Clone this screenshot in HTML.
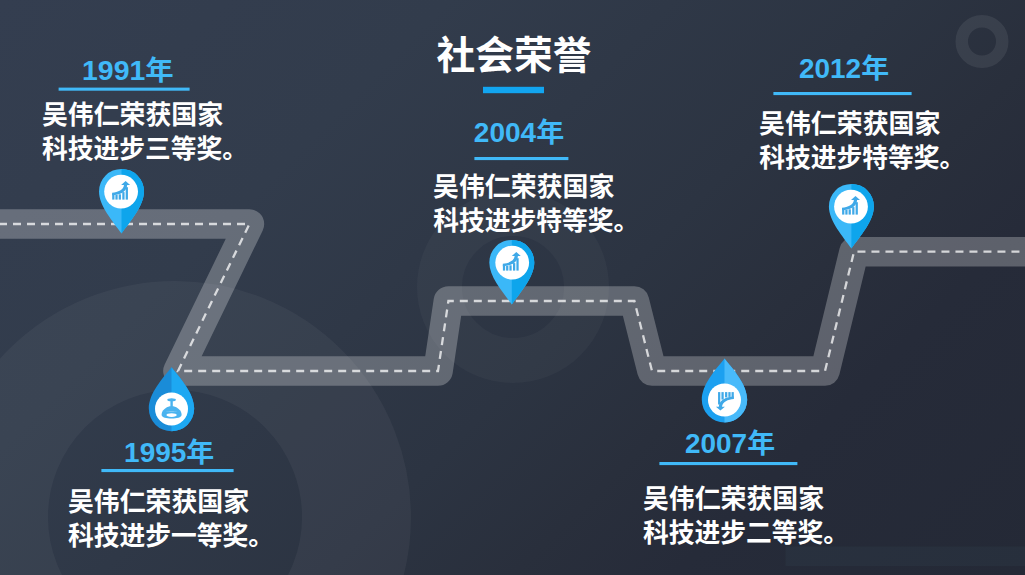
<!DOCTYPE html>
<html lang="zh-CN"><head><meta charset="utf-8"><title>社会荣誉</title>
<style>
html,body{margin:0;padding:0;background:#2b3341;}
body{width:1025px;height:575px;overflow:hidden;position:relative;font-family:"Liberation Sans",sans-serif;}
#bg{position:absolute;left:0;top:0;width:1025px;height:575px;
background:linear-gradient(135deg,#343e50 0%,#323c4c 28%,#2c3442 56%,#292f3c 68%,#262b39 78%,#242936 100%);}
svg{position:absolute;left:0;top:0;display:block}
svg text{font-family:"Liberation Sans","Noto Sans CJK SC",sans-serif;font-weight:bold}
.t{position:absolute;color:transparent;font-weight:bold;white-space:nowrap;margin:0;overflow:hidden}
</style></head><body>
<div id="bg"></div>
<svg width="1025" height="575" viewBox="0 0 1025 575">
<circle cx="175" cy="517" r="181.5" fill="none" stroke="#fff" stroke-opacity="0.042" stroke-width="109"/>
<circle cx="513" cy="287" r="73.5" fill="none" stroke="#fff" stroke-opacity="0.03" stroke-width="45"/>
<circle cx="982" cy="41.5" r="20.25" fill="none" stroke="#fff" stroke-opacity="0.075" stroke-width="12.5"/>
<rect x="785.5" y="546.5" width="240" height="19.5" fill="#7fb0c8" fill-opacity="0.045"/>
<path d="M-30 224 L249.4 224 L178 371 L438 371 L448.4 301 L634.4 301 L652 371 L825 371 L854 251.7 L1060 251.7" fill="none" stroke="#fff" stroke-opacity="0.255" stroke-width="29.6" stroke-linejoin="round"/>
<path d="M-30 224 L249.4 224 L178 371 L438 371 L448.4 301 L634.4 301 L652 371 L825 371 L854 251.7 L1060 251.7" fill="none" stroke="#fff" stroke-opacity="0.74" stroke-width="2.3" stroke-dasharray="8 6" stroke-dashoffset="13"/>
<path d="M99.0 191.4 A22.5 22.5 0 0 1 144.0 191.4 C144.0 205.9 130.0 221.4 121.5 233.4 C113.0 221.4 99.0 205.9 99.0 191.4 Z" fill="#3bb8f8"/><path d="M121.5 168.9 A22.5 22.5 0 0 1 144.0 191.4 C144.0 205.9 130.0 221.4 121.5 233.4 Z" fill="#0ea5ec"/><circle cx="121.1" cy="191.6" r="16.9" fill="#fff"/><g transform="translate(121.3 191.5) rotate(0)" fill="#3fa9e8"><rect x="-9.1" y="2.6" width="2.25" height="5.50"/><rect x="-5.9" y="3.3" width="2.25" height="4.80"/><rect x="-2.6" y="2.8" width="2.25" height="5.30"/><rect x="1.0" y="0.6" width="2.25" height="7.50"/><rect x="4.4" y="-4.3" width="2.25" height="12.40"/><path d="M-9.2 1.2 C-3.2 0.8 2.2 -1.8 2.7 -6.5 L-0.2 -6.5 L4.3 -10.4 L8.8 -6.5 L5.9 -6.5 C5.5 0.4 -1.5 3.6 -9.2 3.8 Z"/></g>
<path d="M489.3 262.4 A22.5 22.5 0 0 1 534.3 262.4 C534.3 276.9 520.3 292.4 511.8 304.4 C503.3 292.4 489.3 276.9 489.3 262.4 Z" fill="#3bb8f8"/><path d="M511.8 239.89999999999998 A22.5 22.5 0 0 1 534.3 262.4 C534.3 276.9 520.3 292.4 511.8 304.4 Z" fill="#0ea5ec"/><circle cx="512.2" cy="262.59999999999997" r="16.9" fill="#fff"/><g transform="translate(512.0 262.5) rotate(0)" fill="#3fa9e8"><rect x="-9.1" y="2.6" width="2.25" height="5.50"/><rect x="-5.9" y="3.3" width="2.25" height="4.80"/><rect x="-2.6" y="2.8" width="2.25" height="5.30"/><rect x="1.0" y="0.6" width="2.25" height="7.50"/><rect x="4.4" y="-4.3" width="2.25" height="12.40"/><path d="M-9.2 1.2 C-3.2 0.8 2.2 -1.8 2.7 -6.5 L-0.2 -6.5 L4.3 -10.4 L8.8 -6.5 L5.9 -6.5 C5.5 0.4 -1.5 3.6 -9.2 3.8 Z"/></g>
<path d="M828.9 206.4 A22.5 22.5 0 0 1 873.9 206.4 C873.9 220.9 859.9 236.4 851.4 248.4 C842.9 236.4 828.9 220.9 828.9 206.4 Z" fill="#3bb8f8"/><path d="M851.4 183.9 A22.5 22.5 0 0 1 873.9 206.4 C873.9 220.9 859.9 236.4 851.4 248.4 Z" fill="#0ea5ec"/><circle cx="851.0" cy="206.6" r="16.9" fill="#fff"/><g transform="translate(851.2 206.5) rotate(0)" fill="#3fa9e8"><rect x="-9.1" y="2.6" width="2.25" height="5.50"/><rect x="-5.9" y="3.3" width="2.25" height="4.80"/><rect x="-2.6" y="2.8" width="2.25" height="5.30"/><rect x="1.0" y="0.6" width="2.25" height="7.50"/><rect x="4.4" y="-4.3" width="2.25" height="12.40"/><path d="M-9.2 1.2 C-3.2 0.8 2.2 -1.8 2.7 -6.5 L-0.2 -6.5 L4.3 -10.4 L8.8 -6.5 L5.9 -6.5 C5.5 0.4 -1.5 3.6 -9.2 3.8 Z"/></g>
<path d="M148.8 408.6 A22.7 22.7 0 0 0 194.2 408.6 C194.2 393.6 180.5 378.6 171.5 367.3 C162.5 378.6 148.8 393.6 148.8 408.6 Z" fill="#1a8cd8"/><path d="M171.5 431.3 A22.7 22.7 0 0 0 194.2 408.6 C194.2 393.6 180.5 378.6 171.5 367.3 Z" fill="#1da8f2"/><circle cx="171.5" cy="408.90000000000003" r="16.5" fill="#fff"/><g transform="translate(171.4 408.7)"><ellipse cx="0.2" cy="-8.9" rx="4.3" ry="1.5" fill="#4ab3ef"/><rect x="-1.0" y="-8.6" width="2.4" height="8" fill="#4ab3ef"/><path d="M-9.8 6.0 C-9.6 1.6 -5.6 -1.4 -1.6 -2.4 L2.0 -2.4 C6.0 -1.4 10.0 1.6 10.2 6.0 C10.2 8.7 5.2 9.8 0.2 9.8 C-4.8 9.8 -9.8 8.7 -9.8 6.0 Z" fill="#4ab3ef"/><ellipse cx="0.2" cy="6.4" rx="5.1" ry="1.8" fill="#fff"/><path d="M-5.6 3.1 C-2.5 1.9 3 1.9 6 3.1 C3 2.7 -2.5 2.7 -5.6 3.1 Z" fill="#fff" fill-opacity="0.55"/></g>
<path d="M701.8 399.7 A22.7 22.7 0 0 0 747.2 399.7 C747.2 384.7 733.5 369.7 724.5 358.4 C715.5 369.7 701.8 384.7 701.8 399.7 Z" fill="#1ca0f0"/><path d="M724.5 422.4 A22.7 22.7 0 0 0 747.2 399.7 C747.2 384.7 733.5 369.7 724.5 358.4 Z" fill="#48bafa"/><circle cx="724.5" cy="400.0" r="16.5" fill="#fff"/><g transform="translate(724.7 400.2) rotate(180)" fill="#3fa9e8"><rect x="-9.1" y="2.6" width="2.25" height="5.50"/><rect x="-5.9" y="3.3" width="2.25" height="4.80"/><rect x="-2.6" y="2.8" width="2.25" height="5.30"/><rect x="1.0" y="0.6" width="2.25" height="7.50"/><rect x="4.4" y="-4.3" width="2.25" height="12.40"/><path d="M-9.2 1.2 C-3.2 0.8 2.2 -1.8 2.7 -6.5 L-0.2 -6.5 L4.3 -10.4 L8.8 -6.5 L5.9 -6.5 C5.5 0.4 -1.5 3.6 -9.2 3.8 Z"/></g>
<text x="436.6" y="68.9" font-size="39" fill="#fff" textLength="155" lengthAdjust="spacingAndGlyphs">社会荣誉</text>
<rect x="483" y="86.8" width="61" height="6.4" fill="#12a5f0"/>
<text x="82" y="80" font-size="27" fill="#40b9f8" textLength="91.7" lengthAdjust="spacingAndGlyphs">1991年</text>
<rect x="58.6" y="87.6" width="131.0" height="3.1" fill="#40b9f8"/>
<text x="41.9" y="123.5" font-size="25.9" fill="#fff" textLength="181.2" lengthAdjust="spacingAndGlyphs">吴伟仁荣获国家</text>
<text x="42" y="157.5" font-size="25.9" fill="#fff" textLength="206" lengthAdjust="spacingAndGlyphs">科技进步三等奖。</text>
<text x="473.8" y="142" font-size="27" fill="#40b9f8" textLength="90.5" lengthAdjust="spacingAndGlyphs">2004年</text>
<rect x="474.4" y="157.0" width="94.0" height="3.1" fill="#40b9f8"/>
<text x="433.1" y="195.5" font-size="25.9" fill="#fff" textLength="181.2" lengthAdjust="spacingAndGlyphs">吴伟仁荣获国家</text>
<text x="433.2" y="229.5" font-size="25.9" fill="#fff" textLength="206" lengthAdjust="spacingAndGlyphs">科技进步特等奖。</text>
<text x="799" y="78.2" font-size="27" fill="#40b9f8" textLength="90.1" lengthAdjust="spacingAndGlyphs">2012年</text>
<rect x="773.4" y="92.0" width="138.2" height="3.1" fill="#40b9f8"/>
<text x="759.1" y="132.5" font-size="25.9" fill="#fff" textLength="181.2" lengthAdjust="spacingAndGlyphs">吴伟仁荣获国家</text>
<text x="759.2" y="166.5" font-size="25.9" fill="#fff" textLength="206" lengthAdjust="spacingAndGlyphs">科技进步特等奖。</text>
<text x="124.1" y="461.6" font-size="27" fill="#40b9f8" textLength="90.2" lengthAdjust="spacingAndGlyphs">1995年</text>
<rect x="101.4" y="469.0" width="132.2" height="3.1" fill="#40b9f8"/>
<text x="67.9" y="511.1" font-size="25.9" fill="#fff" textLength="181.2" lengthAdjust="spacingAndGlyphs">吴伟仁荣获国家</text>
<text x="68" y="545.1" font-size="25.9" fill="#fff" textLength="206" lengthAdjust="spacingAndGlyphs">科技进步一等奖。</text>
<text x="685" y="453.2" font-size="27" fill="#40b9f8" textLength="90.1" lengthAdjust="spacingAndGlyphs">2007年</text>
<rect x="659.4" y="462.0" width="138.0" height="3.1" fill="#40b9f8"/>
<text x="642.9" y="507.5" font-size="25.9" fill="#fff" textLength="181.2" lengthAdjust="spacingAndGlyphs">吴伟仁荣获国家</text>
<text x="643" y="541.5" font-size="25.9" fill="#fff" textLength="206" lengthAdjust="spacingAndGlyphs">科技进步二等奖。</text>
</svg>
<div class="t h" style="left:430px;top:30px;width:170px;font-size:39px;line-height:46px">社会荣誉</div>
<div class="t y" style="left:80px;top:55px;width:100px;font-size:27px;line-height:32px">1991年</div>
<div class="t b" style="left:41px;top:98px;width:200px;font-size:26px;line-height:34px">吴伟仁荣获国家<br>科技进步三等奖。</div>
<div class="t y" style="left:470px;top:117px;width:100px;font-size:27px;line-height:32px">2004年</div>
<div class="t b" style="left:432px;top:170px;width:200px;font-size:26px;line-height:34px">吴伟仁荣获国家<br>科技进步特等奖。</div>
<div class="t y" style="left:795px;top:53px;width:100px;font-size:27px;line-height:32px">2012年</div>
<div class="t b" style="left:758px;top:107px;width:200px;font-size:26px;line-height:34px">吴伟仁荣获国家<br>科技进步特等奖。</div>
<div class="t y" style="left:122px;top:437px;width:100px;font-size:27px;line-height:32px">1995年</div>
<div class="t b" style="left:67px;top:486px;width:200px;font-size:26px;line-height:34px">吴伟仁荣获国家<br>科技进步一等奖。</div>
<div class="t y" style="left:681px;top:428px;width:100px;font-size:27px;line-height:32px">2007年</div>
<div class="t b" style="left:642px;top:482px;width:200px;font-size:26px;line-height:34px">吴伟仁荣获国家<br>科技进步二等奖。</div>
</body></html>
